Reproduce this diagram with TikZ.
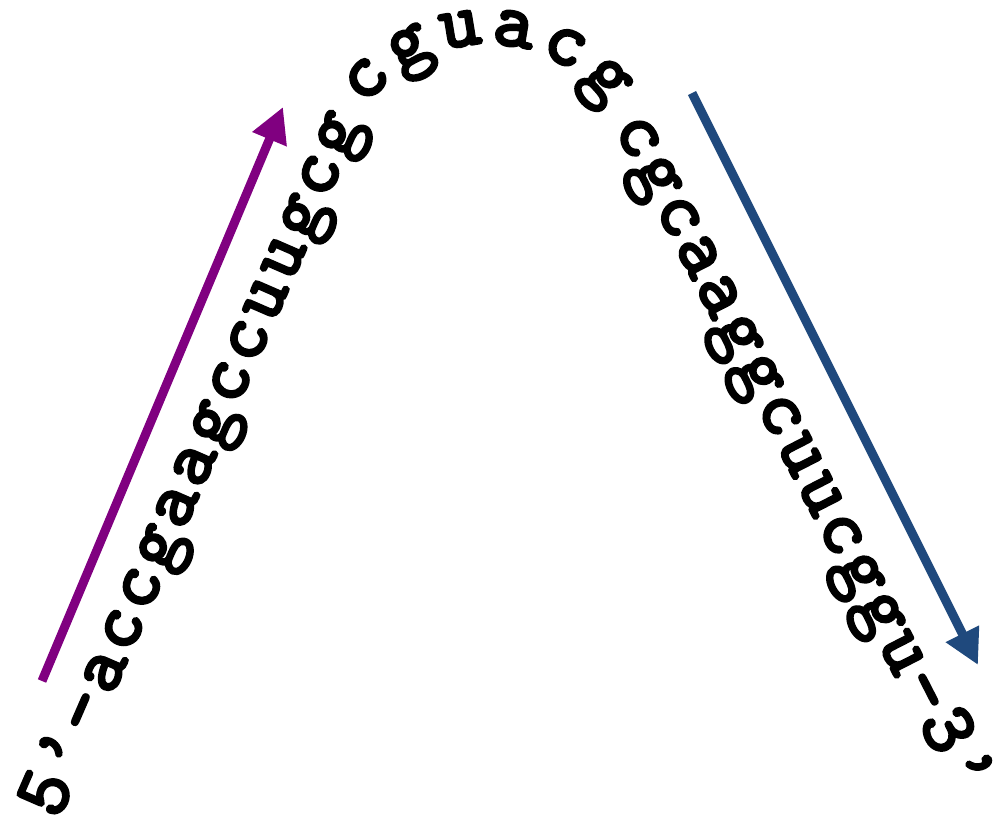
\documentclass[tikz,border=0pt]{standalone}
\usepackage{fontspec}
\newfontfamily\seqfont{Latin Modern Mono Light}[BoldFeatures={FakeBold=2}]
\usetikzlibrary{arrows.meta}
\definecolor{arrpurple}{HTML}{800080}
\definecolor{arrblue}{HTML}{1F497D}
\tikzset{
  seqchar/.style={inner sep=0pt, outer sep=0pt, anchor=center,
    font=\seqfont\bfseries\fontsize{80}{96}\selectfont},
  strandarrow/.style={line width=9pt,
    -{Triangle[length=35pt,width=35pt]}}
}
\newcommand{\seqglyph}[1]{\vphantom{x}\smash{#1}}
\begin{document}
\begin{tikzpicture}[x=1pt,y=-1pt]
\useasboundingbox (0,0) rectangle (997,817);
% left arm
\foreach \ch [count=\i from 0] in {5,’,-,a,c,c,g,a,a,g,c,c,u,u,g,c,g}{
  \node[seqchar, rotate=66.5] (L\i) at ({51+17.9*\i},{795-41.3*\i}) {\seqglyph{\ch}};
}
% loop on arc
\foreach \ch [count=\i from 0] in {c,g,u,a,c,g}{
  \pgfmathsetmacro{\ang}{137-18.8*\i}
  \node[seqchar, rotate=\ang-90] (T\i) at ({487+165*cos(\ang)},{192-165*sin(\ang)}) {\seqglyph{\ch}};
}
% right arm
\foreach \ch [count=\i from 0] in {c,g,c,a,a,g,g,c,u,u,c,g,g,u,-,3,’}{
  \node[seqchar, rotate=-62.9] (R\i) at ({638+20.3*\i},{137+39.7*\i}) {\seqglyph{\ch}};
}
% arrows
\coordinate (ptail) at (42,681);
\coordinate (ptip) at (283,107);
\coordinate (btail) at (692,93);
\coordinate (btip) at (978,665);
\draw[strandarrow, draw=arrpurple, fill=arrpurple] (ptail) -- (ptip);
\draw[strandarrow, draw=arrblue, fill=arrblue] (btail) -- (btip);
\end{tikzpicture}
\end{document}
